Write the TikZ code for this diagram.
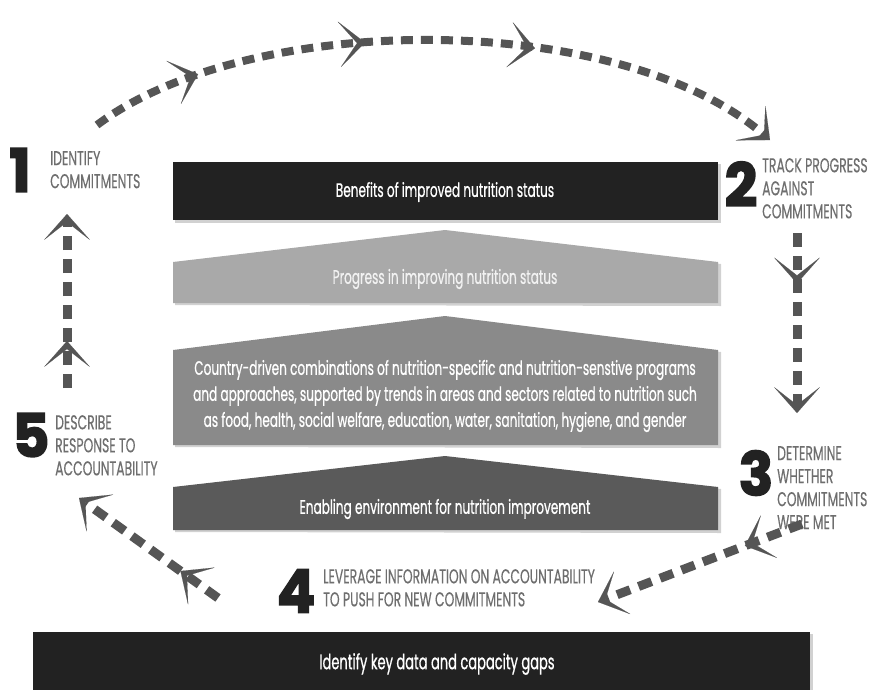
\documentclass[tikz,border=0pt]{standalone}
\usepackage{fontspec}
\setmainfont{Poppins}[FakeStretch=0.62,FakeBold=0.7]
\newfontfamily\lblfont{Poppins}[FakeStretch=0.62,FakeBold=0.3]
\newfontfamily\numfont{Poppins}[FakeStretch=0.95,FakeBold=2.5]
\usetikzlibrary{arrows.meta,decorations.markings}
\definecolor{arrowgray}{HTML}{555555}
\definecolor{lblgray}{HTML}{6E6E6E}
\definecolor{darkbox}{HTML}{222222}
\definecolor{progc}{HTML}{A9A9A9}
\definecolor{countryc}{HTML}{8A8A8A}
\definecolor{enablc}{HTML}{5A5A5A}
\tikzset{
  chev/.tip={Stealth[length=26pt,width=46pt,inset=18pt,line width=0.1pt]},
  dasharrow/.style={draw=arrowgray, fill=none, line width=9pt, dash pattern=on 14pt off 9pt, -{chev}},
  midtip/.style={postaction={decorate}, decoration={markings, mark=at position #1 with {\arrow[arrowgray]{chev}}}},
  boxtext/.style={text=white, font=\fontsize{19.5}{22}\selectfont, inner sep=0pt},
  lbl/.style={text=lblgray, font=\lblfont\fontsize{20}{23}\selectfont, align=left, inner sep=0pt, anchor=north west},
  num/.style={text=darkbox, font=\numfont\bfseries\fontsize{60}{60}\selectfont, inner sep=0pt},
  shadowfill/.style={fill=black, opacity=0.18}
}
\begin{document}
\begin{tikzpicture}[x=1pt,y=-1pt]
\useasboundingbox (0,0) rectangle (869,690);
\fill[white] (0,0) rectangle (869,690);

% shadows
\fill[shadowfill] (175,164) rectangle (721,223);
\fill[shadowfill] (175,305) -- (175,264) -- (447,232) -- (721,264) -- (721,306) -- cycle;
\fill[shadowfill] (175,447) -- (175,352) -- (447,318) -- (721,352) -- (721,448) -- cycle;
\fill[shadowfill] (175,532) -- (175,489) -- (447,458) -- (721,489) -- (721,533) -- cycle;
\fill[shadowfill] (35,634) rectangle (813,690);

% boxes
\fill[darkbox] (173,162) rectangle (718,220);
\fill[progc] (173,303) -- (173,262) -- (445,230) -- (718,262) -- (718,303) -- cycle;
\fill[countryc] (173,445) -- (173,350) -- (445,316) -- (718,350) -- (718,445) -- cycle;
\fill[enablc] (173,530) -- (173,487) -- (445,456) -- (718,487) -- (718,530) -- cycle;
\fill[darkbox] (33,632) rectangle (810,690);

\node[boxtext] (benefits) at (445,192) {Benefits of improved nutrition status};
\node[boxtext, text=white!95!black] (progress) at (445,279) {Progress in improving nutrition status};
\node[boxtext, align=center, font=\fontsize{19.5}{26}\selectfont] (country) at (445,396) {Country-driven combinations of nutrition-specific and nutrition-senstive programs\\and approaches, supported by trends in areas and sectors related to nutrition such\\as food, health, social welfare, education, water, sanitation, hygiene, and gender};
\node[boxtext] (enabling) at (445,509) {Enabling environment for nutrition improvement};
\node[boxtext, font=\fontsize{21}{25}\selectfont] (gaps) at (437,664) {Identify key data and capacity gaps};

% step labels
\node[num] (n1) at (20,170) {1};
\node[lbl] (s1) at (50,151) {IDENTIFY\\COMMITMENTS};
\node[num] (n2) at (741,184) {2};
\node[lbl] (s2) at (762,158) {TRACK PROGRESS\\AGAINST\\COMMITMENTS};
\node[num] (n3) at (756,473) {3};
\node[lbl] (s3) at (777,446) {DETERMINE\\WHETHER\\COMMITMENTS\\WERE MET};
\node[num] (n4) at (296,591) {4};
\node[lbl] (s4) at (323,569) {LEVERAGE INFORMATION ON ACCOUNTABILITY\\TO PUSH FOR NEW COMMITMENTS};
\node[num] (n5) at (31,435) {5};
\node[lbl] (s5) at (55,415) {DESCRIBE\\RESPONSE TO\\ACCOUNTABILITY};

% arrow endpoints
\coordinate (a1s) at (97,125);
\coordinate (a1e) at (770,140);
\coordinate (a2s) at (797,233);
\coordinate (a2e) at (797,413);
\coordinate (a3s) at (802,524);
\coordinate (a3e) at (598,602);
\coordinate (a4s) at (218,598);
\coordinate (a4e) at (79,498);
\coordinate (a5s) at (67,388);
\coordinate (a5e) at (67,214);

\draw[dasharrow, line width=8pt, dash pattern=on 12pt off 8pt, postaction={decorate},
  decoration={markings,
    mark=at position 0.16 with {\arrow[arrowgray]{chev}},
    mark=at position 0.40 with {\arrow[arrowgray]{chev}},
    mark=at position 0.64 with {\arrow[arrowgray]{chev}}}]
  (a1s) .. controls (250,10) and (620,10) .. (a1e);
\draw[dasharrow, midtip=0.28] (a2s) -- (a2e);
\draw[dasharrow, midtip=0.28] (a3s) -- (a3e);
\draw[dasharrow, midtip=0.27] (a4s) -- (a4e);
\draw[dasharrow, midtip=0.27] (a5s) -- (a5e);
\end{tikzpicture}
\end{document}
